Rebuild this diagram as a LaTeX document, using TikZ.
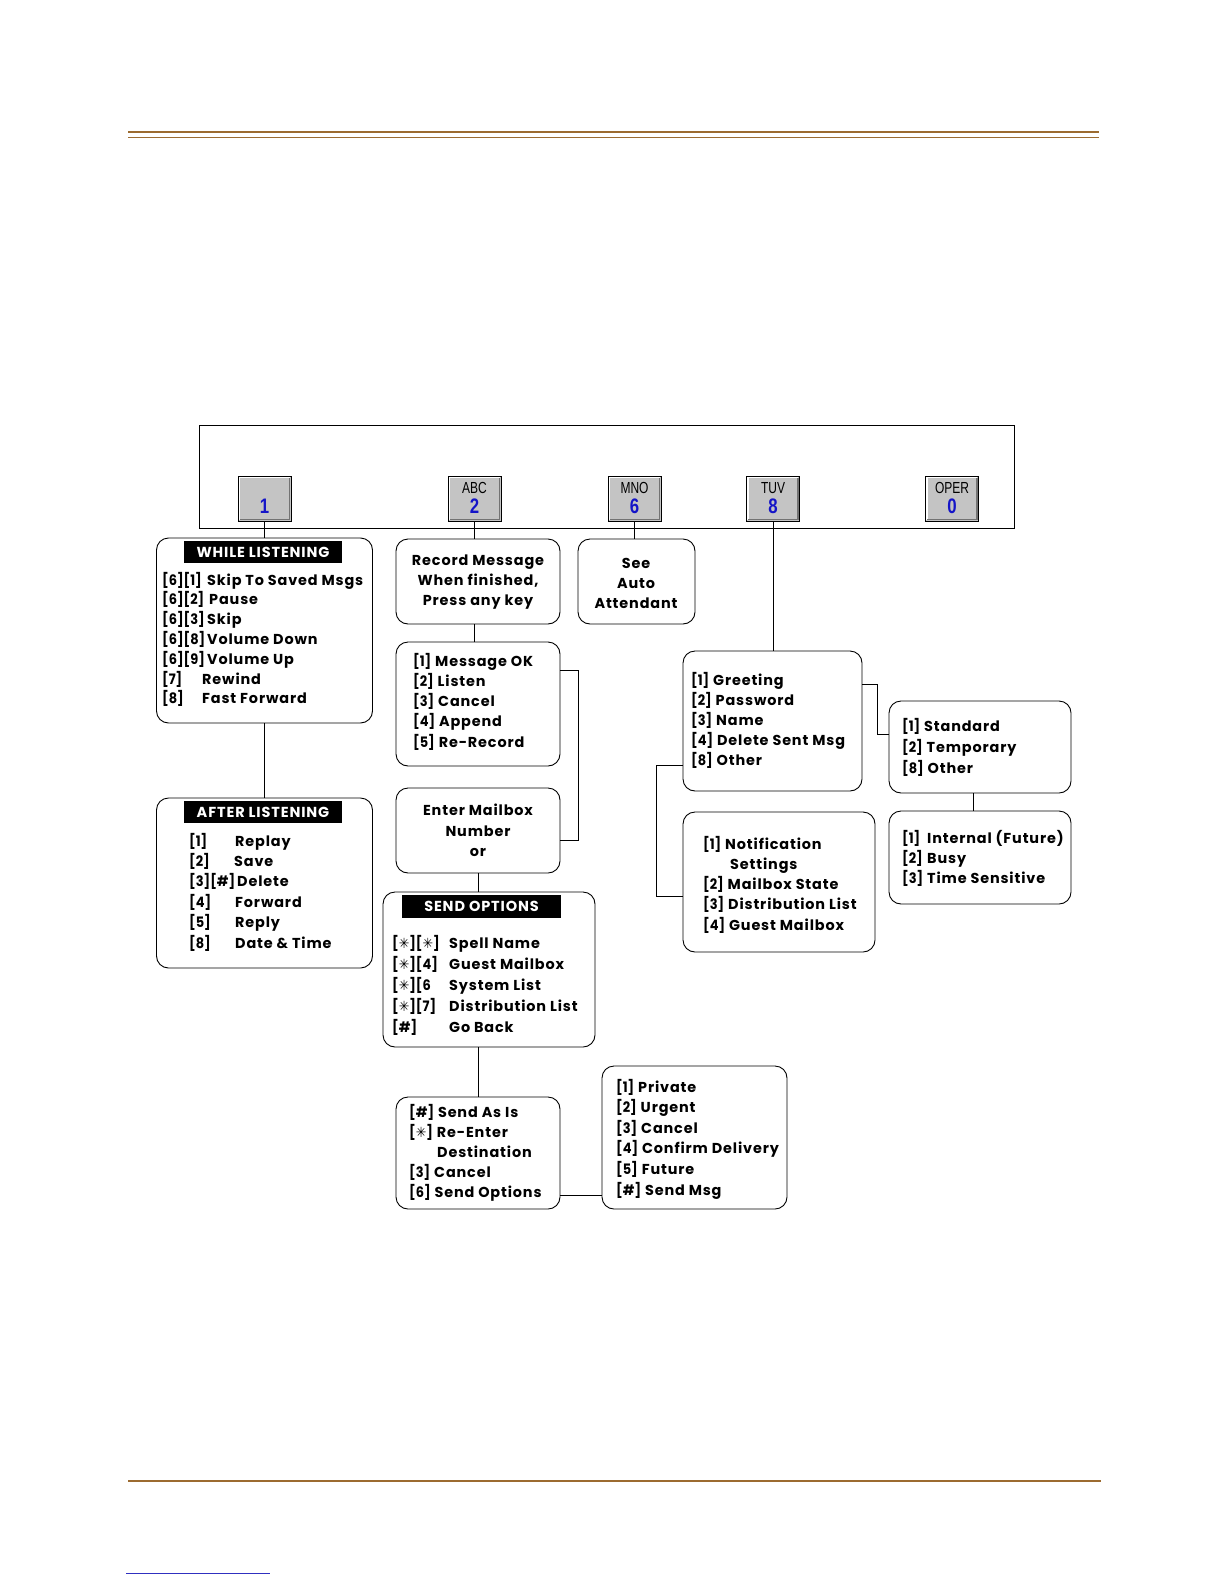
\documentclass[tikz,border=0pt]{standalone}
\usepackage{fontspec}
\setmainfont{Poppins}
\newfontfamily\keyfont{Liberation Sans}
\newfontfamily\symfont{DejaVu Sans}
\definecolor{rulebrown}{HTML}{9C6B30}
\definecolor{keyblue}{HTML}{1414C8}
\definecolor{keygray}{HTML}{C4C4C4}
\definecolor{linkblue}{HTML}{3030C0}
\newcommand\fs{\fontsize{14.4}{18}\selectfont\bfseries\addfontfeature{LetterSpace=6}}
\newcommand\kb[1]{\scalebox{0.9}[1]{\addfontfeature{LetterSpace=0}#1}}
\newcommand\col[2]{\makebox[#1pt][l]{\kb{#2}}}
\newcommand\st{{\symfont\bfseries\fontsize{14}{14}\selectfont ✳}}
\tikzset{
  menubox/.style={draw, line width=0.9pt, rounded corners=12pt, inner sep=0pt},
  hdrbar/.style={fill=black, inner sep=0pt, text=white, font=\fontsize{14.5}{18}\selectfont\bfseries\addfontfeature{LetterSpace=6}},
  txt/.style={font=\fs, anchor=base west, inner sep=0pt},
  ctxt/.style={font=\fs, anchor=base, inner sep=0pt},
  keybox/.style={draw, line width=1pt, fill=keygray, minimum width=53pt, minimum height=45pt, inner sep=0pt},
  keylet/.style={font=\keyfont\fontsize{16}{16}\selectfont, inner sep=0pt},
  keynum/.style={font=\keyfont\bfseries\fontsize{21}{21}\selectfont, text=keyblue, inner sep=0pt},
  conn/.style={draw, line width=0.8pt},
}
\newcommand\boxlines[5]{% prefix, x, first center y, step, list
  \foreach \t [count=\i] in {#5} {
    \node[txt] (#1\i) at (#2, {#3+5+(\i-1)*#4}) {\t};
  }
}
\newcommand\keybtn[4]{% name, center x, letters, number
  \node[keybox] (#1) at (#2,498.5) {};
  \draw[white, line width=1.5pt] ([xshift=2pt,yshift=2pt]#1.south west) -- ([xshift=2pt,yshift=-2pt]#1.north west) -- ([xshift=-2pt,yshift=-2pt]#1.north east);
  \draw[black!55, line width=1.5pt] ([xshift=2pt,yshift=2pt]#1.south west) -- ([xshift=-2pt,yshift=2pt]#1.south east) -- ([xshift=-2pt,yshift=-2pt]#1.north east);
  \node[keylet] (#1l) at (#2,488) {\scalebox{0.75}[1]{#3}};
  \node[keynum] (#1n) at (#2,506) {\scalebox{0.8}[1]{#4}};
}
\begin{document}
\begin{tikzpicture}[x=1pt,y=-1pt]
\useasboundingbox (0,0) rectangle (1224,1584);
\fill[white] (0,0) rectangle (1224,1584);

% page rules
\draw[rulebrown, line width=1.6pt] (128,132) -- (1099,132);
\draw[rulebrown, line width=1.6pt] (128,137.5) -- (1099,137.5);
\draw[rulebrown, line width=1.4pt] (128,1481) -- (1101,1481);
\draw[linkblue, line width=0.6pt] (126,1573) -- (270,1573);

% keypad frame
\node[draw, line width=0.9pt, minimum width=815pt, minimum height=103pt, inner sep=0pt] (frame) at (606.5,476.5) {};
\keybtn{k1}{264.5}{}{1}
\keybtn{k2}{474.5}{ABC}{2}
\keybtn{k6}{634.5}{MNO}{6}
\keybtn{k8}{773}{TUV}{8}
\keybtn{k0}{952}{OPER}{0}

% boxes
\node[menubox, minimum width=216pt, minimum height=185pt] (wl) at (264.5,630.5) {};
\node[hdrbar, minimum width=158pt, minimum height=22pt] (wlh) at (263,552) {WHILE LISTENING};
\boxlines{wlt}{162}{580}{19.8}{\col{45}{[6][1]}Skip To Saved Msgs, \col{47}{[6][2]}Pause, \col{45}{[6][3]}Skip, \col{45}{[6][8]}Volume Down, \col{45}{[6][9]}Volume Up, \col{40}{[7]}Rewind, \col{40}{[8]}Fast Forward}

\node[menubox, minimum width=216pt, minimum height=170pt] (al) at (264.5,883) {};
\node[hdrbar, minimum width=158pt, minimum height=22pt] (alh) at (263,812) {AFTER LISTENING};
\boxlines{alt}{189}{841}{20.4}{\col{46}{[1]}Replay, \col{45}{[2]}Save, \col{48}{[3][\#]}Delete, \col{46}{[4]}Forward, \col{46}{[5]}Reply, \col{46}{[8]}Date \& Time}

\node[menubox, minimum width=164pt, minimum height=85pt] (rm) at (478,581.5) {};
\node[ctxt] (rm1) at (478,565) {Record Message};
\node[ctxt] (rm2) at (478,585) {When finished,};
\node[ctxt] (rm3) at (478,605) {Press any key};

\node[menubox, minimum width=117pt, minimum height=85pt] (sa) at (636.5,581.5) {};
\node[ctxt] (sa1) at (636,568) {See};
\node[ctxt] (sa2) at (636,588) {Auto};
\node[ctxt] (sa3) at (636,608) {Attendant};

\node[menubox, minimum width=164pt, minimum height=124pt] (mo) at (478,704) {};
\boxlines{mot}{413}{661}{20.3}{\kb{[1]} Message OK, \kb{[2]} Listen, \kb{[3]} Cancel, \kb{[4]} Append, \kb{[5]} Re-Record}

\node[menubox, minimum width=164pt, minimum height=85pt] (em) at (478,830.5) {};
\node[ctxt] (em1) at (478,815) {Enter Mailbox};
\node[ctxt] (em2) at (478,836) {Number};
\node[ctxt] (em3) at (478,856) {or};

\node[menubox, minimum width=212pt, minimum height=155pt] (so) at (489,969.5) {};
\node[hdrbar, minimum width=159pt, minimum height=23pt] (soh) at (481.5,906.5) {SEND OPTIONS};
\boxlines{sot}{392}{943}{21.2}{\col{57}{[\st][\st]}Spell Name, \col{57}{[\st][4]}Guest Mailbox, \col{57}{[\st][6}System List, \col{57}{[\st][7]}Distribution List, \col{57}{[\#]}Go Back}

\node[menubox, minimum width=164pt, minimum height=112pt] (sai) at (478,1153) {};
\boxlines{sait}{409}{1112}{20.2}{\kb{[\#]} Send As Is, \kb{[\st]} Re-Enter, \hspace*{28pt}Destination, \kb{[3]} Cancel, \kb{[6]} Send Options}

\node[menubox, minimum width=185pt, minimum height=143pt] (pr) at (694.5,1137.5) {};
\boxlines{prt}{616}{1087}{20.6}{\kb{[1]} Private, \kb{[2]} Urgent, \kb{[3]} Cancel, \kb{[4]} Confirm Delivery, \kb{[5]} Future, \kb{[\#]} Send Msg}

\node[menubox, minimum width=179pt, minimum height=140pt] (gr) at (772.5,721) {};
\boxlines{grt}{691}{680}{20}{\kb{[1]} Greeting, \kb{[2]} Password, \kb{[3]} Name, \kb{[4]} Delete Sent Msg, \kb{[8]} Other}

\node[menubox, minimum width=192pt, minimum height=140pt] (no) at (779,882) {};
\boxlines{not}{703}{844}{20.3}{\kb{[1]} Notification, \hspace*{27pt}Settings, \kb{[2]} Mailbox State, \kb{[3]} Distribution List, \kb{[4]} Guest Mailbox}

\node[menubox, minimum width=182pt, minimum height=92pt] (st) at (980,747) {};
\boxlines{stt}{902}{726}{21}{\kb{[1]} Standard, \kb{[2]} Temporary, \kb{[8]} Other}

\node[menubox, minimum width=182pt, minimum height=93pt] (in) at (980,857.5) {};
\boxlines{intx}{902}{838}{20}{\col{25}{[1]}Internal (Future), \col{25}{[2]}Busy, \kb{[3]} Time Sensitive}

% helper coordinates
\coordinate (ymo) at (0,670);
\coordinate (yem) at (0,840);
\coordinate (xmo) at (578,0);
\coordinate (ysai) at (0,1195);
\coordinate (ygr1) at (0,684);
\coordinate (xgr1) at (877,0);
\coordinate (yst) at (0,734);
\coordinate (ygr2) at (0,765);
\coordinate (xgr2) at (656,0);
\coordinate (yno) at (0,896);
\coordinate (xst) at (973,0);
\coordinate (xso) at (478,0);

% connectors
\draw[conn] (k1.south) -- (k1.south |- wl.north);
\draw[conn] (k2.south) -- (k2.south |- rm.north);
\draw[conn] (k6.south) -- (k6.south |- sa.north);
\draw[conn] (k8.south) -- (k8.south |- gr.north);
\draw[conn] (k1.south |- wl.south) -- (k1.south |- al.north);
\draw[conn] (k2.south |- rm.south) -- (k2.south |- mo.north);
\draw[conn] (mo.east |- ymo) -- (xmo |- ymo) -- (xmo |- yem) -- (em.east |- yem);
\draw[conn] (em.south) -- (em.south |- so.north);
\draw[conn] (xso |- so.south) -- (sai.north);
\draw[conn] (sai.east |- ysai) -- (pr.west |- ysai);
\draw[conn] (gr.east |- ygr1) -- (xgr1 |- ygr1) -- (xgr1 |- yst) -- (st.west |- yst);
\draw[conn] (gr.west |- ygr2) -- (xgr2 |- ygr2) -- (xgr2 |- yno) -- (no.west |- yno);
\draw[conn] (xst |- st.south) -- (xst |- in.north);
\end{tikzpicture}
\end{document}
